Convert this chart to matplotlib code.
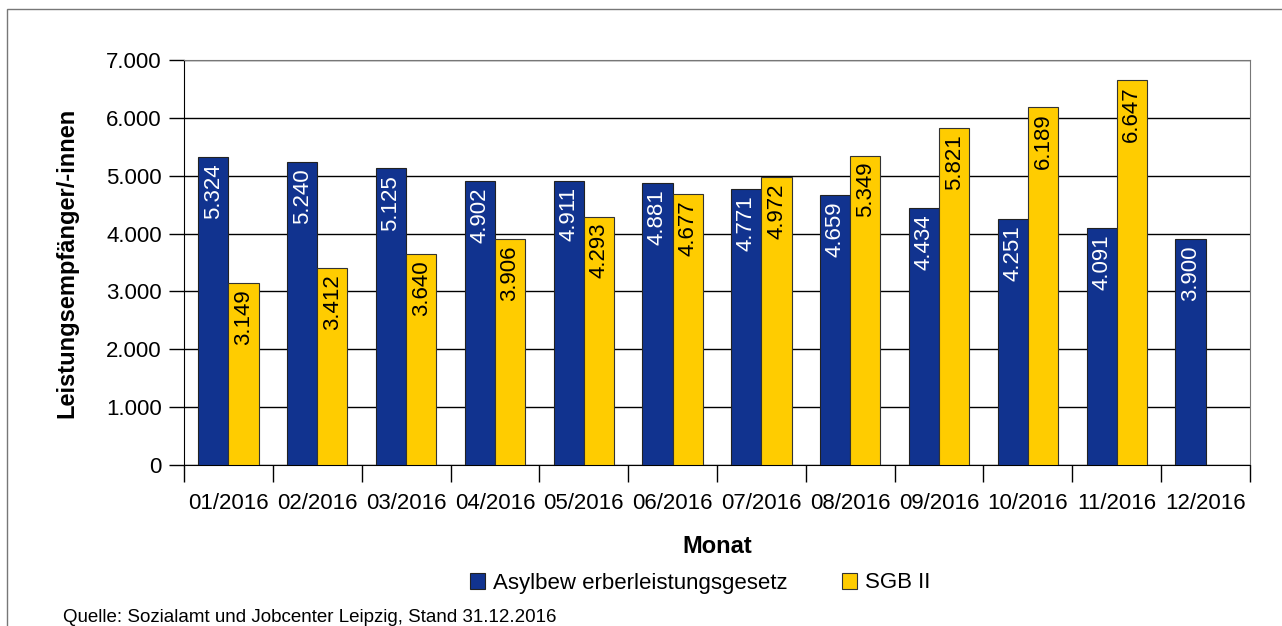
import matplotlib.pyplot as plt
import numpy as np
from matplotlib.patches import Rectangle

plt.rcParams["font.family"] = ["Liberation Sans", "DejaVu Sans"]

# Data
months = ["01/2016", "02/2016", "03/2016", "04/2016", "05/2016", "06/2016",
          "07/2016", "08/2016", "09/2016", "10/2016", "11/2016", "12/2016"]
asyl = [5324, 5240, 5125, 4902, 4911, 4881, 4771, 4659, 4434, 4251, 4091, 3900]
sgb = [3149, 3412, 3640, 3906, 4293, 4677, 4972, 5349, 5821, 6189, 6647, None]
series_names = ["Asylbew erberleistungsgesetz", "SGB II"]
colors = ["#11338F", "#FFCC00"]


def fmt(v):
    return f"{v:,}".replace(",", ".")


fig = plt.figure(figsize=(12.82, 6.26), dpi=100)
ax = fig.add_axes([184 / 1282, 1 - 465 / 626, (1250 - 184) / 1282, (465 - 60) / 626])

x = np.arange(len(months))
w = 0.34
sgb_x = [xi for xi, v in zip(x, sgb) if v is not None]
sgb_v = [v for v in sgb if v is not None]

ax.bar(x - w / 2, asyl, w, color=colors[0], edgecolor="#222222", linewidth=0.8,
       label=series_names[0], zorder=3)
ax.bar(np.array(sgb_x) + w / 2, sgb_v, w, color=colors[1], edgecolor="#333333",
       linewidth=0.8, label=series_names[1], zorder=3)

# value labels inside bars, rotated
for xi, v in zip(x, asyl):
    ax.text(xi - w / 2, v - 110, fmt(v), rotation=90, ha="center", va="top",
            color="white", fontsize=16, zorder=4)
for xi, v in zip(sgb_x, sgb_v):
    ax.text(xi + w / 2, v - 110, fmt(v), rotation=90, ha="center", va="top",
            color="black", fontsize=16, zorder=4)

ax.set_xlim(-0.5, len(months) - 0.5)
ax.set_ylim(0, 7000)
ax.set_yticks(np.arange(0, 7001, 1000))
ax.set_yticklabels([fmt(v) for v in range(0, 7001, 1000)], fontsize=16)
ax.yaxis.grid(True, color="black", linewidth=1, zorder=0)

ax.set_xticks(x)
ax.set_xticklabels(months, fontsize=16)
ax.tick_params(axis="x", length=0, pad=20)
ax.set_xticks(np.arange(-0.5, len(months)), minor=True)
ax.tick_params(axis="x", which="minor", length=12, width=1, color="black")
ax.tick_params(axis="y", length=11, width=1, color="black", pad=5)

for s in ["top", "right"]:
    ax.spines[s].set_color("#777777")
ax.spines["left"].set_color("black")
ax.spines["bottom"].set_color("black")

ax.set_ylabel("Leistungsempfänger/-innen", fontsize=17, fontweight="bold", labelpad=20)
ax.set_xlabel("Monat", fontsize=17, fontweight="bold", labelpad=15)

leg = fig.legend(loc="center", bbox_to_anchor=(0.546, 1 - 583 / 626), ncol=2,
                 frameon=False, fontsize=16, handlelength=0.7, handleheight=0.7,
                 handletextpad=0.35, columnspacing=2.43)

fig.text(63 / 1282, 1 - 617 / 626, "Quelle: Sozialamt und Jobcenter Leipzig, Stand 31.12.2016",
         fontsize=13.5, va="center")

# outer frame
fig.patches.append(Rectangle((7 / 1282, -0.1), 1.2, 1 - 9 / 626 + 0.1,
                             transform=fig.transFigure, fill=False,
                             edgecolor="#777777", linewidth=1))

plt.savefig("out.png", dpi=100)
